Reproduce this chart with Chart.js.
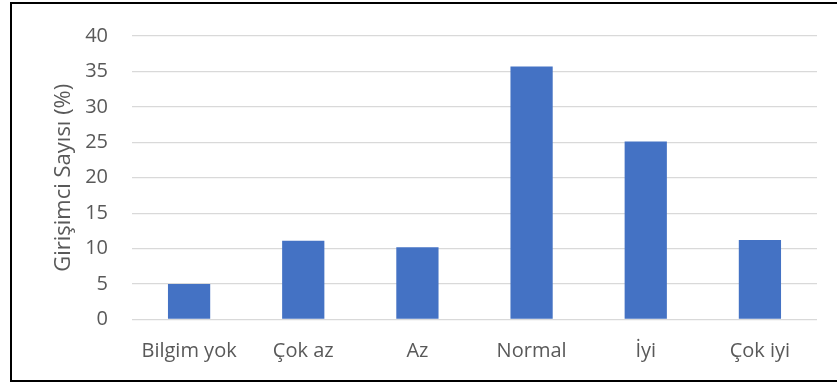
<!DOCTYPE html>
<html lang="tr">
  <head>
    <meta charset="UTF-8" />
    <title>Girişimci Sayısı</title>
    <style>
      html, body { margin: 0; padding: 0; background: #ffffff; }
      #wrap { position: relative; width: 837px; height: 383px; overflow: hidden; }
      #frame {
        position: absolute; left: 10px; top: 2px; width: 900px; height: 376px;
        border: 2px solid #000000;
      }
      canvas { position: absolute; left: 0; top: 0; }
    </style>
  </head>
  <body>
    <div id="wrap">
      <div id="frame"></div>
      <canvas id="chart" width="837" height="383"></canvas>
    </div>
    <script src="https://cdn.jsdelivr.net/npm/chart.js@4.4.0/dist/chart.umd.min.js"></script>
    <script>
      // Kategoriler ve değerler
      const categories = ['Bilgim yok', 'Çok az', 'Az', 'Normal', 'İyi', 'Çok iyi'];
      const values = [5.0, 11.1, 10.2, 35.7, 25.1, 11.2];
      const yTicks = [0, 5, 10, 15, 20, 25, 30, 35, 40];
      const yTitle = 'Girişimci Sayısı (%)';

      const textColor = '#595959';
      const font = { family: "'Open Sans', 'Noto Sans', sans-serif", size: 20 };
      const titleFont = { family: "'Open Sans', 'Noto Sans', sans-serif", size: 22 };

      new Chart(document.getElementById('chart'), {
        type: 'bar',
        data: {
          labels: categories,
          datasets: [
            {
              data: values,
              backgroundColor: '#4472C4',
              categoryPercentage: 1,
              barPercentage: 0.37,
            },
          ],
        },
        options: {
          responsive: false,
          animation: false,
          layout: { padding: { left: 51, right: 20, top: 33, bottom: 0 } },
          plugins: { legend: { display: false }, tooltip: { enabled: false } },
          scales: {
            x: {
              grid: { display: false, drawTicks: false },
              border: { display: false },
              ticks: { color: textColor, font: font, padding: 20, maxRotation: 0 },
              afterFit: (scale) => { scale.height = 63.5; },
            },
            y: {
              min: yTicks[0],
              max: yTicks[yTicks.length - 1],
              afterBuildTicks: (scale) => {
                scale.ticks = yTicks.map((v) => ({ value: v }));
              },
              grid: { color: '#d9d9d9', lineWidth: 1.3, drawTicks: false },
              border: { display: false },
              ticks: { color: textColor, font: font, padding: 24 },
              title: {
                display: true,
                text: yTitle,
                color: textColor,
                font: titleFont,
                padding: 0,
              },
              afterFit: (scale) => { scale.width = 81; },
            },
          },
        },
      });
    </script>
  </body>
</html>
